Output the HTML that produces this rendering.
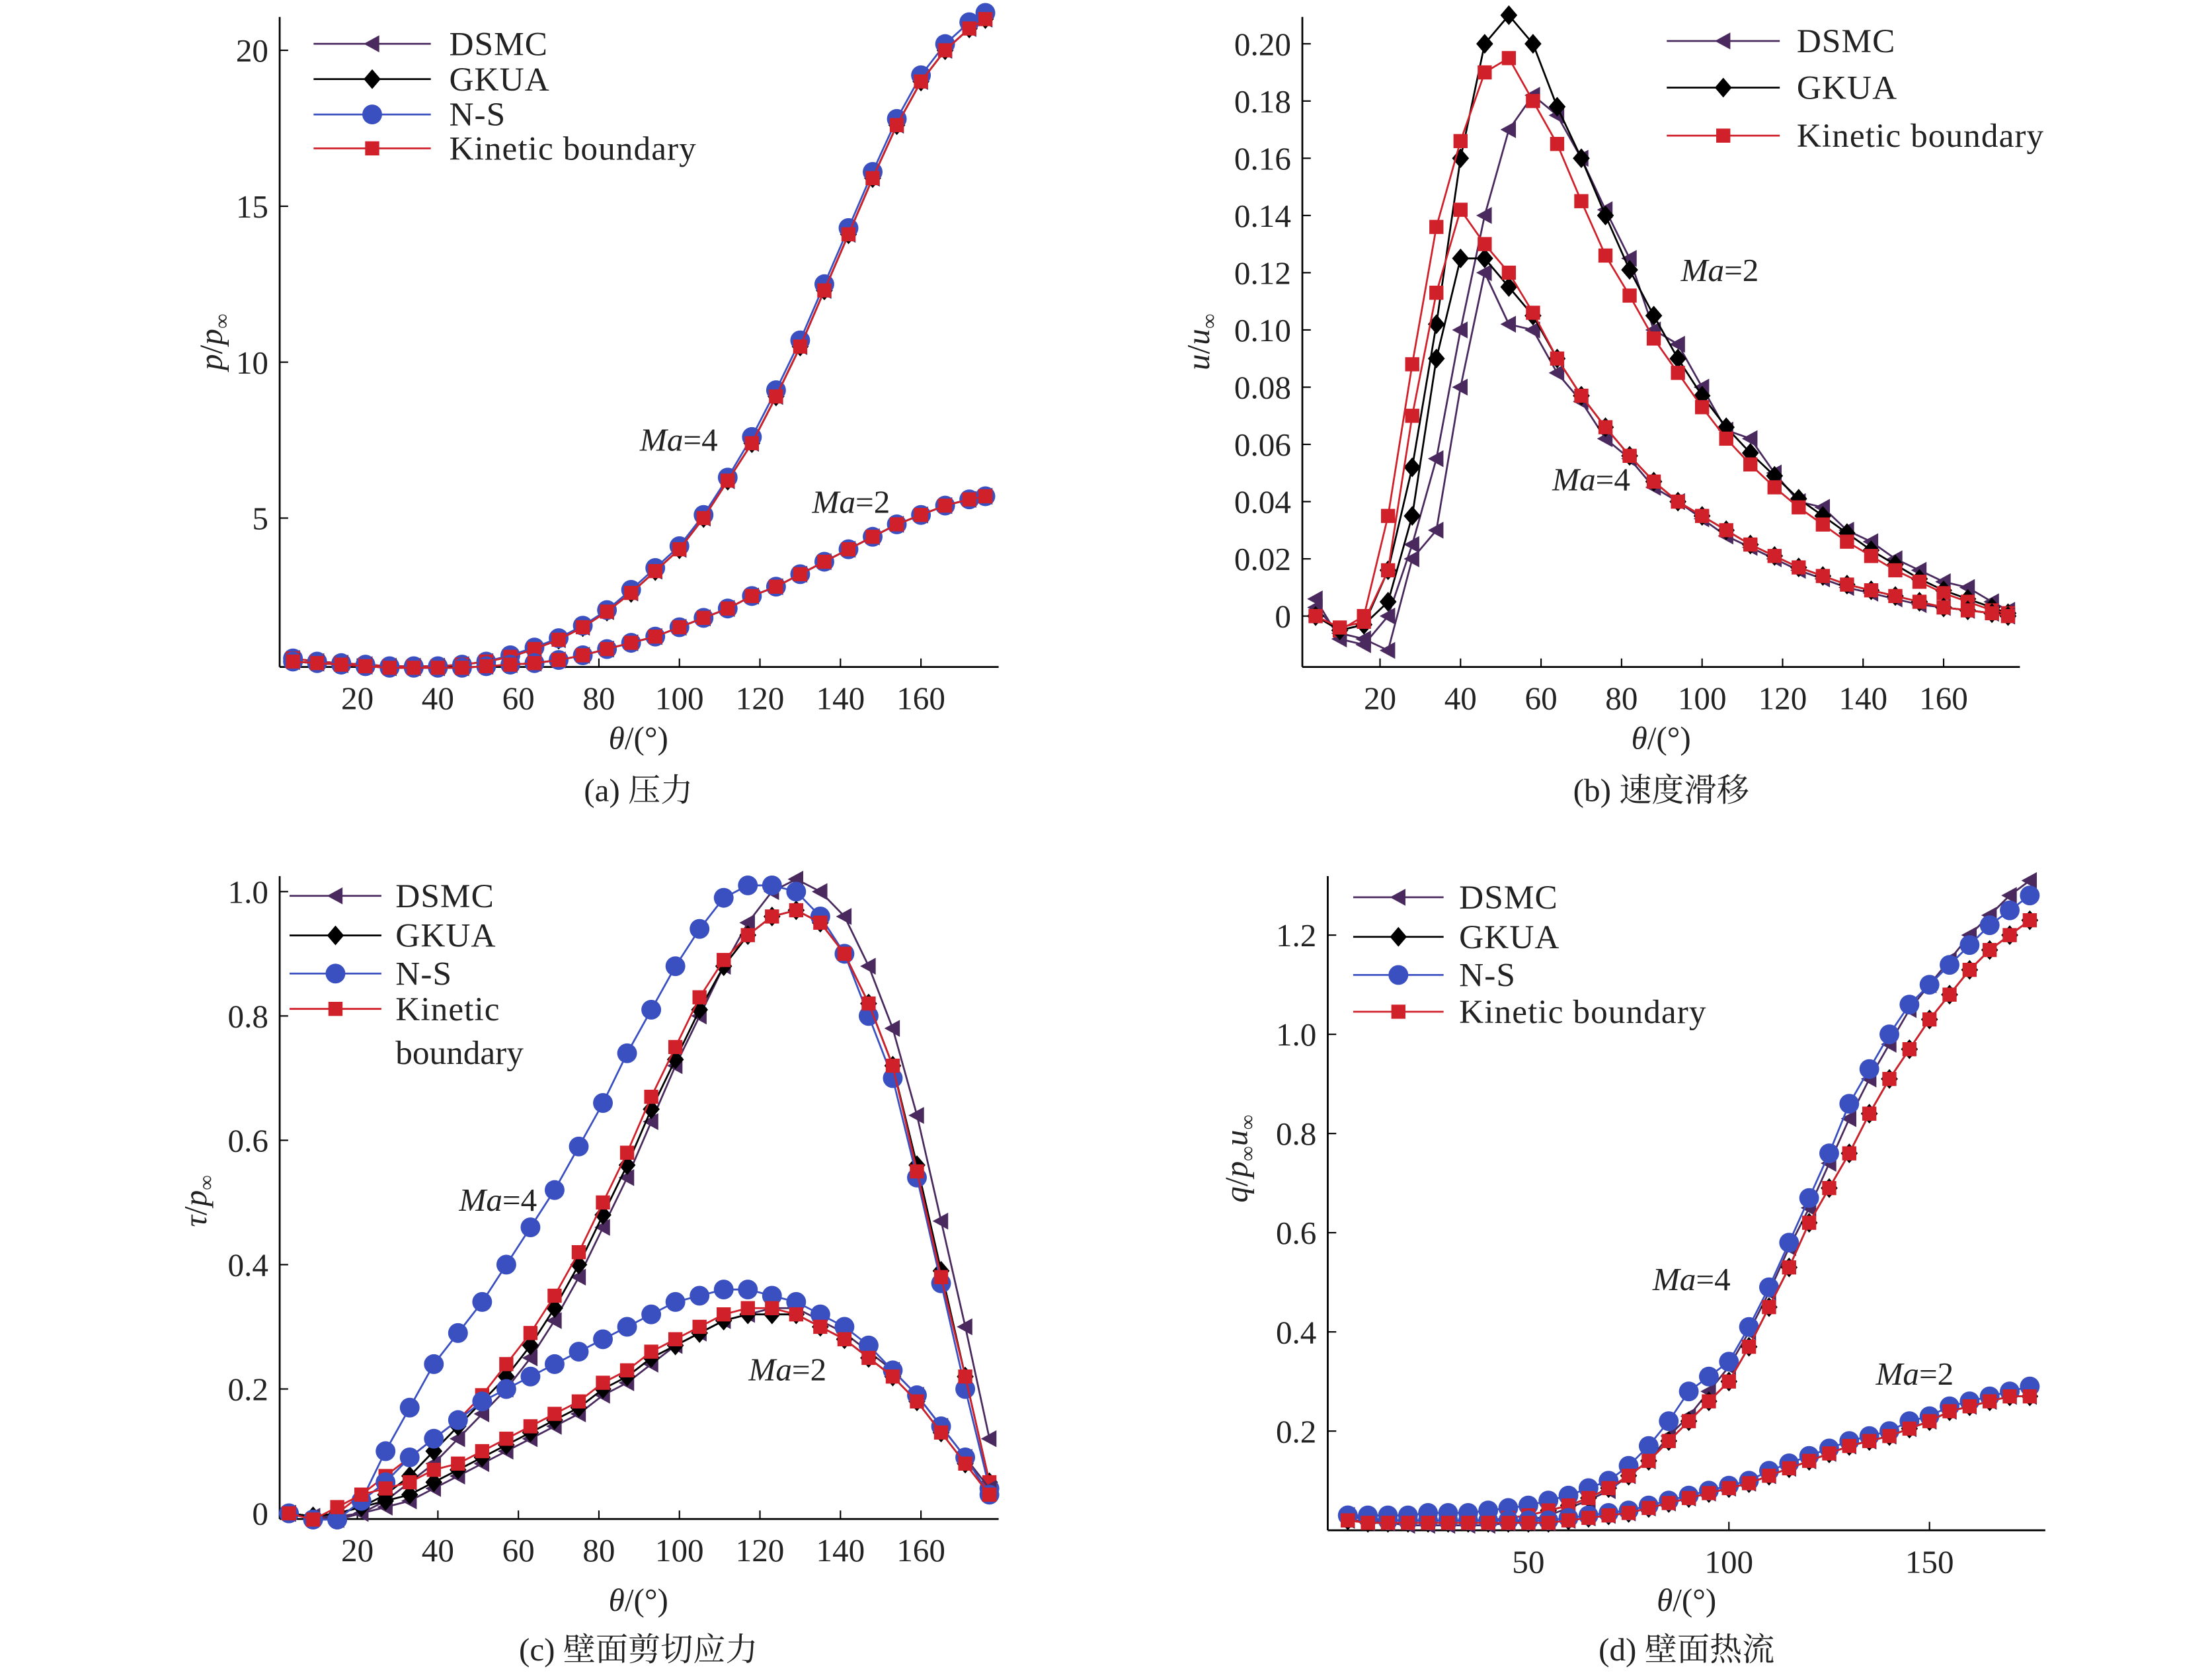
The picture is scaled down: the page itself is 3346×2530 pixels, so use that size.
<!DOCTYPE html>
<html><head><meta charset="utf-8">
<style>
html,body{margin:0;padding:0;background:#fff;}
svg{display:block;}
text{font-family:"Liberation Serif","Noto Serif CJK SC","Noto Sans CJK SC",serif;fill:#222;}
</style></head>
<body>
<svg id="fig" width="3346" height="2530" viewBox="0 0 1566 1184" preserveAspectRatio="none" xmlns="http://www.w3.org/2000/svg"></svg>
<script>
// ---------- DATA ----------
const thetaA = [4,10,16,22,28,34,40,46,52,58,64,70,76,82,88,94,100,106,112,118,124,130,136,142,148,154,160,166,172,176];
const aMa4 = [0.5,0.4,0.35,0.3,0.25,0.25,0.25,0.3,0.4,0.55,0.8,1.1,1.5,2.0,2.6,3.3,4.0,5.0,6.2,7.4,8.9,10.5,12.3,14.1,15.9,17.6,19.0,20.0,20.7,21.0];
const aMa4NS = [0.5,0.4,0.35,0.3,0.25,0.25,0.25,0.3,0.4,0.6,0.85,1.15,1.55,2.05,2.7,3.4,4.1,5.1,6.3,7.6,9.1,10.7,12.5,14.3,16.1,17.8,19.2,20.2,20.9,21.2];
const aMa2 = [0.4,0.35,0.3,0.25,0.2,0.2,0.2,0.2,0.25,0.3,0.35,0.45,0.6,0.8,1.0,1.2,1.5,1.8,2.1,2.5,2.8,3.2,3.6,4.0,4.4,4.8,5.1,5.4,5.6,5.7];

const thetaB = [4,10,16,22,28,34,40,46,52,58,64,70,76,82,88,94,100,106,112,118,124,130,136,142,148,154,160,166,172,176];
const bG2 = [0,-0.005,-0.003,0.016,0.052,0.102,0.16,0.2,0.21,0.2,0.178,0.16,0.14,0.121,0.105,0.09,0.077,0.066,0.057,0.049,0.041,0.035,0.029,0.023,0.018,0.013,0.009,0.006,0.003,0.001];
const bK2 = [0,-0.005,0,0.035,0.088,0.136,0.166,0.19,0.195,0.18,0.165,0.145,0.126,0.112,0.097,0.085,0.073,0.062,0.053,0.045,0.038,0.032,0.026,0.021,0.016,0.012,0.008,0.005,0.002,0.001];
const bD2 = [0.006,-0.008,-0.01,0,0.025,0.055,0.1,0.14,0.17,0.182,0.175,0.16,0.142,0.125,0.1,0.095,0.08,0.065,0.062,0.05,0.04,0.038,0.03,0.026,0.02,0.016,0.012,0.01,0.005,0.002];
const bG4 = [0,-0.005,-0.003,0.005,0.035,0.09,0.125,0.125,0.115,0.105,0.09,0.077,0.066,0.056,0.047,0.04,0.035,0.03,0.025,0.021,0.017,0.014,0.011,0.009,0.007,0.005,0.003,0.002,0.001,0];
const bK4 = [0,-0.004,-0.002,0.016,0.07,0.113,0.142,0.13,0.12,0.106,0.09,0.077,0.066,0.056,0.047,0.04,0.035,0.03,0.025,0.021,0.017,0.014,0.011,0.009,0.007,0.005,0.003,0.002,0.001,0];
const bD4 = [0.003,-0.006,-0.008,-0.012,0.02,0.03,0.08,0.12,0.102,0.1,0.085,0.075,0.062,0.055,0.045,0.04,0.034,0.028,0.024,0.02,0.016,0.013,0.01,0.008,0.006,0.004,0.003,0.002,0.001,0];

const thetaC = [3,9,15,21,27,33,39,45,51,57,63,69,75,81,87,93,99,105,111,117,123,129,135,141,147,153,159,165,171,177];
const cK4 = [0,-0.01,0,0.03,0.06,0.09,0.12,0.15,0.19,0.24,0.29,0.35,0.42,0.5,0.58,0.67,0.75,0.83,0.89,0.93,0.96,0.97,0.95,0.9,0.82,0.72,0.55,0.38,0.22,0.05];
const cN4 = [0,-0.01,-0.01,0.02,0.1,0.17,0.24,0.29,0.34,0.4,0.46,0.52,0.59,0.66,0.74,0.81,0.88,0.94,0.99,1.01,1.01,1.0,0.96,0.9,0.8,0.7,0.54,0.37,0.2,0.04];
const cG4 = [0,-0.005,0,0.01,0.03,0.06,0.1,0.14,0.18,0.22,0.27,0.33,0.4,0.48,0.56,0.65,0.73,0.81,0.88,0.93,0.96,0.97,0.95,0.9,0.82,0.72,0.56,0.39,0.22,0.05];
const cD4 = [0,-0.005,-0.01,0,0.02,0.05,0.08,0.12,0.16,0.2,0.25,0.31,0.38,0.46,0.54,0.63,0.72,0.8,0.88,0.95,1.0,1.02,1.0,0.96,0.88,0.78,0.64,0.47,0.3,0.12];
const cK2 = [0,-0.01,0.01,0.03,0.04,0.05,0.07,0.08,0.1,0.12,0.14,0.16,0.18,0.21,0.23,0.26,0.28,0.3,0.32,0.33,0.33,0.32,0.3,0.28,0.25,0.22,0.18,0.13,0.08,0.03];
const cN2 = [0,-0.01,-0.01,0.02,0.05,0.09,0.12,0.15,0.18,0.2,0.22,0.24,0.26,0.28,0.3,0.32,0.34,0.35,0.36,0.36,0.35,0.34,0.32,0.3,0.27,0.23,0.19,0.14,0.09,0.03];
const cG2 = [0,-0.005,0,0.01,0.02,0.03,0.05,0.07,0.09,0.11,0.13,0.15,0.17,0.2,0.22,0.25,0.27,0.29,0.31,0.32,0.32,0.32,0.3,0.28,0.25,0.22,0.18,0.13,0.08,0.03];
const cD2 = [0,-0.005,-0.005,0,0.01,0.02,0.04,0.06,0.08,0.1,0.12,0.14,0.16,0.19,0.21,0.24,0.27,0.29,0.31,0.32,0.33,0.33,0.31,0.29,0.26,0.23,0.19,0.14,0.09,0.04];

const thetaD = [5,10,15,20,25,30,35,40,45,50,55,60,65,70,75,80,85,90,95,100,105,110,115,120,125,130,135,140,145,150,155,160,165,170,175];
const dN4 = [0.03,0.03,0.03,0.03,0.035,0.035,0.035,0.04,0.045,0.05,0.06,0.07,0.085,0.1,0.13,0.17,0.22,0.28,0.31,0.34,0.41,0.49,0.58,0.67,0.76,0.86,0.93,1.0,1.06,1.1,1.14,1.18,1.22,1.25,1.28];
const dK4 = [0.02,0.02,0.02,0.02,0.02,0.02,0.02,0.02,0.025,0.03,0.04,0.05,0.065,0.085,0.11,0.14,0.18,0.22,0.26,0.3,0.37,0.45,0.53,0.62,0.69,0.76,0.84,0.91,0.97,1.03,1.08,1.13,1.17,1.2,1.23];
const dD4 = [0.03,0.02,0.015,0.01,0.01,0.01,0.01,0.01,0.015,0.02,0.03,0.045,0.06,0.08,0.11,0.14,0.19,0.23,0.28,0.33,0.4,0.48,0.57,0.65,0.74,0.83,0.91,0.98,1.05,1.1,1.15,1.2,1.24,1.28,1.31];
const dN2 = [0.03,0.025,0.02,0.02,0.02,0.02,0.02,0.02,0.02,0.02,0.02,0.025,0.03,0.035,0.04,0.05,0.06,0.07,0.08,0.09,0.1,0.12,0.135,0.15,0.165,0.18,0.19,0.2,0.22,0.23,0.25,0.26,0.27,0.28,0.29];
const dK2 = [0.02,0.015,0.015,0.015,0.015,0.015,0.015,0.015,0.015,0.015,0.015,0.02,0.025,0.03,0.035,0.045,0.055,0.065,0.075,0.085,0.095,0.11,0.125,0.14,0.155,0.17,0.18,0.19,0.205,0.22,0.24,0.25,0.26,0.27,0.27];

// ---------- DRAWING ----------
const NS = 'http://www.w3.org/2000/svg';
const svg = document.getElementById('fig');
const COL = {DSMC:'#4a2a5e', GKUA:'#000', NS:'#3a4fc0', KIN:'#d0212b'};
function el(tag, attrs, parent){const e=document.createElementNS(NS,tag);for(const k in attrs)e.setAttribute(k,attrs[k]);(parent||svg).appendChild(e);return e;}
function marker(g,type,x,y){
  let m;
  if(type==='DSMC'){m=el('polygon',{points:`${x-6},${y} ${x+5},${y-6} ${x+5},${y+6}`,fill:COL.DSMC},g);}
  else if(type==='GKUA'){m=el('polygon',{points:`${x},${y-7} ${x+6},${y} ${x},${y+7} ${x-6},${y}`,fill:COL.GKUA},g);}
  else if(type==='NS'){m=el('circle',{cx:x,cy:y,r:7,fill:COL.NS},g);}
  else {m=el('rect',{x:x-5,y:y-5,width:10,height:10,fill:COL.KIN},g);}
  
  
}
function series(p,type,xs,ys,name){
  const g=el('g',{});
  
  
  const pts=xs.map((t,i)=>p.sx(t).toFixed(1)+','+p.sy(ys[i]).toFixed(1)).join(' ');
  el('polyline',{points:pts,fill:'none',stroke:COL[type],'stroke-width':1.3},g);
  xs.forEach((t,i)=>marker(g,type,p.sx(t),p.sy(ys[i])));
}
function panel(c){
  const p={sx:t=>c.x0+t*c.kx, sy:v=>c.y0-v*c.ky};
  const g=el('g',{});
  
  
  el('line',{x1:c.L,y1:c.T,x2:c.L,y2:c.B,stroke:'#000','stroke-width':1.3},g);
  el('line',{x1:c.L,y1:c.B,x2:c.R,y2:c.B,stroke:'#000','stroke-width':1.3},g);
  c.xt.forEach(v=>{const x=p.sx(v);el('line',{x1:x,y1:c.B,x2:x,y2:c.B-6,stroke:'#000'},g);
    const t=el('text',{x:x,y:c.B+30,'font-size':23,'text-anchor':'middle'},g);t.textContent=v;
    });
  c.yt.forEach(v=>{const y=p.sy(v);el('line',{x1:c.L,y1:y,x2:c.L+6,y2:y,stroke:'#000'},g);
    const t=el('text',{x:c.L-8,y:y+8,'font-size':23,'text-anchor':'end'},g);t.textContent=c.yf?c.yf(v):v;
    });
  return p;
}
function txt(x,y,html,size,anchor,name,rot){
  const t=el('text',{x:x,y:y,'font-size':size,'text-anchor':anchor||'start'});
  if(rot)t.setAttribute('transform',`rotate(-90 ${x} ${y})`);
  t.innerHTML=html;
  
  
}
function legend(x1,x2,tx,rows){
  rows.forEach(r=>{
    const g=el('g',{});
    
    
    el('line',{x1:x1,y1:r[1],x2:x2,y2:r[1],stroke:COL[r[0]],'stroke-width':1.3},g);
    marker(g,r[0],(x1+x2)/2,r[1]);
    const t=el('text',{x:tx,y:r[1]+8,'font-size':24,'letter-spacing':'0.5'},g);t.textContent=r[2];
  });
}

// Panel (a)
const pa=panel({name:'pressure',L:198,R:707,T:12,B:472,x0:196,kx:2.85,y0:477,ky:22.07,xt:[20,40,60,80,100,120,140,160],yt:[5,10,15,20]});
series(pa,'DSMC',thetaA,aMa4,'dsmc-ma4');series(pa,'GKUA',thetaA,aMa4,'gkua-ma4');series(pa,'NS',thetaA,aMa4NS,'ns-ma4');series(pa,'KIN',thetaA,aMa4,'kinetic-ma4');
series(pa,'DSMC',thetaA,aMa2,'dsmc-ma2');series(pa,'GKUA',thetaA,aMa2,'gkua-ma2');series(pa,'NS',thetaA,aMa2,'ns-ma2');series(pa,'KIN',thetaA,aMa2,'kinetic-ma2');
legend(222,305,318,[['DSMC',31,'DSMC'],['GKUA',56,'GKUA'],['NS',81,'N-S'],['KIN',105,'Kinetic boundary']]);
txt(453,319,'<tspan font-style="italic">Ma</tspan>=4',23,'start','ma4-label');
txt(575,363,'<tspan font-style="italic">Ma</tspan>=2',23,'start','ma2-label');
txt(452,530,'<tspan font-style="italic">θ</tspan>/(°)',23,'middle','x-axis-title');
txt(157,242,'<tspan font-style="italic">p</tspan>/<tspan font-style="italic">p</tspan><tspan font-size="15" dy="5">∞</tspan>',23,'middle','y-axis-title',true);
txt(452,567,'(a) 压力',23,'middle','caption-a');

// Panel (b)
const pb=panel({name:'velocity-slip',L:922,R:1430,T:12,B:472,x0:920,kx:2.85,y0:436,ky:2025,xt:[20,40,60,80,100,120,140,160],yt:[0,0.02,0.04,0.06,0.08,0.1,0.12,0.14,0.16,0.18,0.2],yf:v=>v===0?'0':v.toFixed(2)});
series(pb,'DSMC',thetaB,bD2,'dsmc-ma2');series(pb,'GKUA',thetaB,bG2,'gkua-ma2');series(pb,'KIN',thetaB,bK2,'kinetic-ma2');
series(pb,'DSMC',thetaB,bD4,'dsmc-ma4');series(pb,'GKUA',thetaB,bG4,'gkua-ma4');series(pb,'KIN',thetaB,bK4,'kinetic-ma4');
legend(1180,1260,1272,[['DSMC',29,'DSMC'],['GKUA',62,'GKUA'],['KIN',96,'Kinetic boundary']]);
txt(1190,199,'<tspan font-style="italic">Ma</tspan>=2',23,'start','ma2-label');
txt(1099,347,'<tspan font-style="italic">Ma</tspan>=4',23,'start','ma4-label');
txt(1176,530,'<tspan font-style="italic">θ</tspan>/(°)',23,'middle','x-axis-title');
txt(856,242,'<tspan font-style="italic">u</tspan>/<tspan font-style="italic">u</tspan><tspan font-size="15" dy="5">∞</tspan>',23,'middle','y-axis-title',true);
txt(1176,567,'(b) 速度滑移',23,'middle','caption-b');

// Panel (c)
const pc=panel({name:'shear-stress',L:198,R:707,T:620,B:1075,x0:196,kx:2.85,y0:1071,ky:440,xt:[20,40,60,80,100,120,140,160],yt:[0,0.2,0.4,0.6,0.8,1.0],yf:v=>v===0?'0':v.toFixed(1)});
series(pc,'DSMC',thetaC,cD4,'dsmc-ma4');series(pc,'GKUA',thetaC,cG4,'gkua-ma4');series(pc,'NS',thetaC,cN4,'ns-ma4');series(pc,'KIN',thetaC,cK4,'kinetic-ma4');
series(pc,'DSMC',thetaC,cD2,'dsmc-ma2');series(pc,'GKUA',thetaC,cG2,'gkua-ma2');series(pc,'NS',thetaC,cN2,'ns-ma2');series(pc,'KIN',thetaC,cK2,'kinetic-ma2');
legend(205,270,280,[['DSMC',634,'DSMC'],['GKUA',662,'GKUA'],['NS',689,'N-S'],['KIN',714,'Kinetic']]);
txt(280,753,'boundary',24,'start','legend-boundary-text');
txt(325,857,'<tspan font-style="italic">Ma</tspan>=4',23,'start','ma4-label');
txt(530,977,'<tspan font-style="italic">Ma</tspan>=2',23,'start','ma2-label');
txt(452,1140,'<tspan font-style="italic">θ</tspan>/(°)',23,'middle','x-axis-title');
txt(146,850,'<tspan font-style="italic">τ</tspan>/<tspan font-style="italic">p</tspan><tspan font-size="15" dy="5">∞</tspan>',23,'middle','y-axis-title',true);
txt(452,1175,'(c) 壁面剪切应力',23,'middle','caption-c');

// Panel (d)
const pd=panel({name:'heat-flux',L:940,R:1448,T:620,B:1083,x0:940,kx:2.84,y0:1083,ky:351,xt:[50,100,150],yt:[0.2,0.4,0.6,0.8,1.0,1.2],yf:v=>v.toFixed(1)});
series(pd,'DSMC',thetaD,dD4,'dsmc-ma4');series(pd,'GKUA',thetaD,dK4,'gkua-ma4');series(pd,'NS',thetaD,dN4,'ns-ma4');series(pd,'KIN',thetaD,dK4,'kinetic-ma4');
series(pd,'DSMC',thetaD,dK2,'dsmc-ma2');series(pd,'GKUA',thetaD,dK2,'gkua-ma2');series(pd,'NS',thetaD,dN2,'ns-ma2');series(pd,'KIN',thetaD,dK2,'kinetic-ma2');
legend(958,1022,1033,[['DSMC',635,'DSMC'],['GKUA',663,'GKUA'],['NS',690,'N-S'],['KIN',716,'Kinetic boundary']]);
txt(1170,913,'<tspan font-style="italic">Ma</tspan>=4',23,'start','ma4-label');
txt(1328,980,'<tspan font-style="italic">Ma</tspan>=2',23,'start','ma2-label');
txt(1194,1140,'<tspan font-style="italic">θ</tspan>/(°)',23,'middle','x-axis-title');
txt(883,820,'<tspan font-style="italic">q</tspan>/<tspan font-style="italic">p</tspan><tspan font-size="15" dy="5">∞</tspan><tspan font-style="italic" dy="-5">u</tspan><tspan font-size="15" dy="5">∞</tspan>',23,'middle','y-axis-title',true);
txt(1194,1175,'(d) 壁面热流',23,'middle','caption-d');
</script>
</body></html>
